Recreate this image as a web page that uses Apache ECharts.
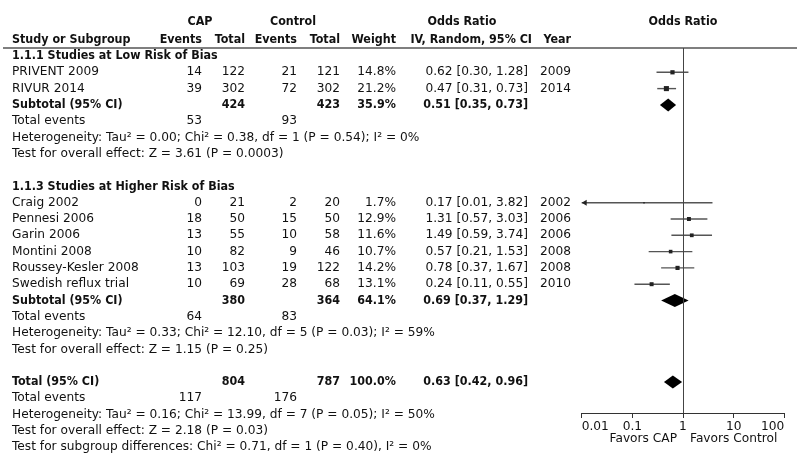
<!DOCTYPE html>
<html><head><meta charset="utf-8">
<script src="https://cdn.jsdelivr.net/npm/echarts@6/dist/echarts.min.js"></script>
<style>html,body{margin:0;padding:0;background:#fff}#c{width:800px;height:471px}</style>
</head><body><div id="c"></div>
<script>
// ---------- data ----------
const studies     = ['PRIVENT 2009','RIVUR 2014','Craig 2002','Pennesi 2006','Garin 2006','Montini 2008','Roussey-Kesler 2008','Swedish reflux trial'];
const capEvents   = [14, 39, 0, 18, 13, 10, 13, 10];
const capTotal    = [122, 302, 21, 50, 55, 82, 103, 69];
const ctrlEvents  = [21, 72, 2, 15, 10, 9, 19, 28];
const ctrlTotal   = [121, 302, 20, 50, 58, 46, 122, 68];
const weights     = [14.8, 21.2, 1.7, 12.9, 11.6, 10.7, 14.2, 13.1];
const orVal       = [0.62, 0.47, 0.17, 1.31, 1.49, 0.57, 0.78, 0.24];
const orLo        = [0.30, 0.31, 0.01, 0.57, 0.59, 0.21, 0.37, 0.11];
const orHi        = [1.28, 0.73, 3.82, 3.03, 3.74, 1.53, 1.67, 0.55];
const years       = [2009, 2014, 2002, 2006, 2006, 2008, 2008, 2010];

const groupNames      = ['1.1.1 Studies at Low Risk of Bias', '1.1.3 Studies at Higher Risk of Bias'];
const groupStudyCount = [2, 6];
const subCapTotal     = [424, 380];
const subCtrlTotal    = [423, 364];
const subWeight       = [35.9, 64.1];
const subOR           = [0.51, 0.69];
const subLo           = [0.35, 0.37];
const subHi           = [0.73, 1.29];
const subCapEvents    = [53, 64];
const subCtrlEvents   = [93, 83];
const subHet          = ['Tau² = 0.00; Chi² = 0.38, df = 1 (P = 0.54); I² = 0%', 'Tau² = 0.33; Chi² = 12.10, df = 5 (P = 0.03); I² = 59%'];
const subZ            = ['Z = 3.61 (P = 0.0003)', 'Z = 1.15 (P = 0.25)'];

const totCapTotal   = 804;
const totCtrlTotal  = 787;
const totWeight     = 100.0;
const totOR         = [0.63, 0.42, 0.96];
const totCapEvents  = 117;
const totCtrlEvents = 176;
const totHet        = 'Tau² = 0.16; Chi² = 13.99, df = 7 (P = 0.05); I² = 50%';
const totZ          = 'Z = 2.18 (P = 0.03)';
const subgroupDiff  = 'Chi² = 0.71, df = 1 (P = 0.40), I² = 0%';

const axisTicks = [0.01, 0.1, 1, 10, 100];
const tickLabels = ['0.01', '0.1', '1', '10', '100'];

// ---------- layout ----------
const ROW0 = 56, DY = 16.3;
const rowY = r => ROW0 + DY * r;
const PLOT_TOP = 48, PLOT_BOT = 413;
const F = '12.2px "DejaVu Sans", sans-serif';
const FB = 'bold 12.4px "DejaVu Sans Condensed", "DejaVu Sans", sans-serif';
const COL = {capE: 202, capT: 245, ctlE: 297, ctlT: 340, w: 396, or: 528, yr: 571, left: 12};
const fmtOR = (v, l, h) => v.toFixed(2) + ' [' + l.toFixed(2) + ', ' + h.toFixed(2) + ']';

const graphics = [];
function txt(s, x, y, bold, align) {
  graphics.push({type: 'text', x: x, y: y, silent: true,
    style: {text: String(s), font: bold ? FB : F, fill: '#111', align: align || 'left', verticalAlign: 'middle'}});
}
// headers
txt('CAP', 200, 22, true, 'center');
txt('Control', 293, 22, true, 'center');
txt('Odds Ratio', 462, 22, true, 'center');
txt('Odds Ratio', 683, 22, true, 'center');
txt('Study or Subgroup', COL.left, 40, true);
txt('Events', COL.capE, 40, true, 'right');
txt('Total', COL.capT, 40, true, 'right');
txt('Events', COL.ctlE, 40, true, 'right');
txt('Total', COL.ctlT, 40, true, 'right');
txt('Weight', COL.w, 40, true, 'right');
txt('IV, Random, 95% CI', 532, 40, true, 'right');
txt('Year', COL.yr, 40, true, 'right');
graphics.push({type: 'line', silent: true, shape: {x1: 3, y1: 48, x2: 797, y2: 48}, style: {stroke: '#555', lineWidth: 1.5}});

const studyData = [];
const diamondData = [];
let r = 0, si = 0;
for (let g = 0; g < groupNames.length; g++) {
  txt(groupNames[g], COL.left, rowY(r), true); r++;
  for (let k = 0; k < groupStudyCount[g]; k++, si++) {
    const y = rowY(r);
    txt(studies[si], COL.left, y);
    txt(capEvents[si], COL.capE, y, false, 'right');
    txt(capTotal[si], COL.capT, y, false, 'right');
    txt(ctrlEvents[si], COL.ctlE, y, false, 'right');
    txt(ctrlTotal[si], COL.ctlT, y, false, 'right');
    txt(weights[si].toFixed(1) + '%', COL.w, y, false, 'right');
    txt(fmtOR(orVal[si], orLo[si], orHi[si]), COL.or, y, false, 'right');
    txt(years[si], COL.yr, y, false, 'right');
    studyData.push([orVal[si], orLo[si], orHi[si], r, weights[si]]);
    r++;
  }
  let y = rowY(r);
  txt('Subtotal (95% CI)', COL.left, y, true);
  txt(subCapTotal[g], COL.capT, y, true, 'right');
  txt(subCtrlTotal[g], COL.ctlT, y, true, 'right');
  txt(subWeight[g].toFixed(1) + '%', COL.w, y, true, 'right');
  txt(fmtOR(subOR[g], subLo[g], subHi[g]), COL.or, y, true, 'right');
  diamondData.push([subOR[g], subLo[g], subHi[g], r]);
  r++;
  y = rowY(r);
  txt('Total events', COL.left, y);
  txt(subCapEvents[g], COL.capE, y, false, 'right');
  txt(subCtrlEvents[g], COL.ctlE, y, false, 'right');
  r++;
  txt('Heterogeneity: ' + subHet[g], COL.left, rowY(r)); r++;
  txt('Test for overall effect: ' + subZ[g], COL.left, rowY(r)); r++;
  r++; // blank row
}
{
  let y = rowY(r);
  txt('Total (95% CI)', COL.left, y, true);
  txt(totCapTotal, COL.capT, y, true, 'right');
  txt(totCtrlTotal, COL.ctlT, y, true, 'right');
  txt(totWeight.toFixed(1) + '%', COL.w, y, true, 'right');
  txt(fmtOR(totOR[0], totOR[1], totOR[2]), COL.or, y, true, 'right');
  diamondData.push([totOR[0], totOR[1], totOR[2], r]);
  r++;
  y = rowY(r);
  txt('Total events', COL.left, y);
  txt(totCapEvents, COL.capE, y, false, 'right');
  txt(totCtrlEvents, COL.ctlE, y, false, 'right');
  r++;
  txt('Heterogeneity: ' + totHet, COL.left, rowY(r)); r++;
  txt('Test for overall effect: ' + totZ, COL.left, rowY(r)); r++;
  txt('Test for subgroup differences: ' + subgroupDiff, COL.left, rowY(r)); r++;
}
txt('Favors CAP', 677, 439, false, 'right');
txt('Favors Control', 690, 439, false, 'left');

const AXMIN = axisTicks[0], AXMAX = axisTicks[axisTicks.length - 1];

const chart = echarts.init(document.getElementById('c'), null, {renderer: 'canvas'});
chart.setOption({
  backgroundColor: '#fff',
  animation: false,
  grid: {left: 581.7, right: 15.7, top: PLOT_TOP, bottom: 471 - PLOT_BOT, containLabel: false},
  xAxis: {
    type: 'log', logBase: 10, min: AXMIN, max: AXMAX, position: 'bottom',
    axisLine: {show: true, onZero: false, lineStyle: {color: '#333', width: 1}},
    axisTick: {show: true, length: 5, lineStyle: {color: '#333', width: 1}},
    minorTick: {show: false},
    splitLine: {show: false},
    axisLabel: {
      show: true, margin: 8, color: '#111', fontSize: 12.2, fontFamily: '"DejaVu Sans", sans-serif',
      alignMinLabel: 'left', alignMaxLabel: 'right',
      formatter: v => { const i = axisTicks.findIndex(t => Math.abs(Math.log10(t) - Math.log10(v)) < 1e-6); return i >= 0 ? tickLabels[i] : ''; }
    }
  },
  yAxis: {type: 'value', inverse: true, min: (PLOT_TOP - ROW0) / DY, max: (PLOT_BOT - ROW0) / DY, show: false},
  graphic: graphics,
  series: [
    {
      type: 'custom', name: 'studies', data: studyData, clip: false,
      renderItem: (params, api) => {
        const v = api.value(0), lo = api.value(1), hi = api.value(2), row = api.value(3), w = api.value(4);
        const loC = Math.max(lo, AXMIN), hiC = Math.min(hi, AXMAX);
        const p0 = api.coord([loC, row]), p1 = api.coord([hiC, row]), pc = api.coord([v, row]);
        const s = Math.max(1.2, Math.sqrt(w) * 1.1);
        const children = [
          {type: 'line', shape: {x1: p0[0], y1: p0[1], x2: p1[0], y2: p1[1]}, style: {stroke: '#555', lineWidth: 1.4}},
          {type: 'rect', shape: {x: pc[0] - s / 2, y: pc[1] - s / 2, width: s, height: s}, style: {fill: '#222'}}
        ];
        if (lo <= AXMIN) {
          children.push({type: 'polygon', shape: {points: [[p0[0], p0[1]], [p0[0] + 5, p0[1] - 3], [p0[0] + 5, p0[1] + 3]]}, style: {fill: '#222'}});
        }
        return {type: 'group', children: children};
      },
      markLine: {
        silent: true, symbol: 'none', label: {show: false},
        lineStyle: {color: '#444', width: 1, type: 'solid'},
        data: [{xAxis: 1}]
      }
    },
    {
      type: 'custom', name: 'pooled', data: diamondData, clip: false,
      renderItem: (params, api) => {
        const v = api.value(0), lo = api.value(1), hi = api.value(2), row = api.value(3);
        const pl = api.coord([lo, row]), pr = api.coord([hi, row]), pc = api.coord([v, row]);
        const h = 6.5;
        return {type: 'polygon', shape: {points: [[pl[0], pl[1]], [pc[0], pc[1] - h], [pr[0], pr[1]], [pc[0], pc[1] + h]]}, style: {fill: '#000'}};
      }
    }
  ]
});
</script>
</body></html>
